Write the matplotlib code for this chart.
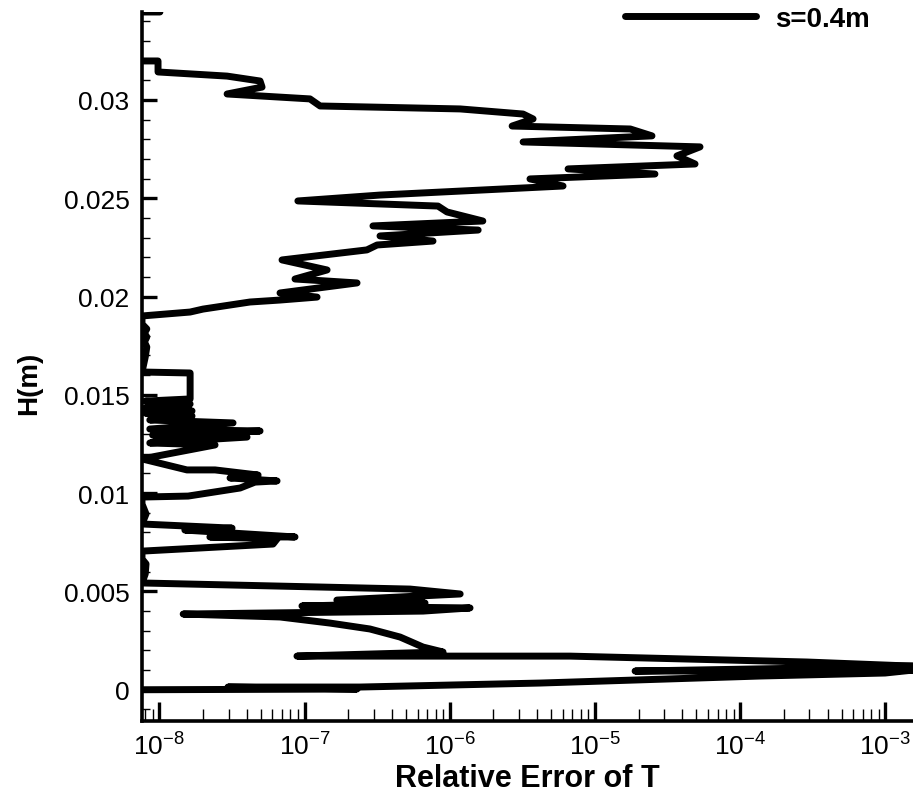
import matplotlib
matplotlib.use("Agg")
import matplotlib.pyplot as plt
from matplotlib.ticker import FixedLocator, FixedFormatter, NullFormatter

plt.rcParams['font.family'] = ['Liberation Sans', 'DejaVu Sans']
plt.rcParams['mathtext.fontset'] = 'custom'
plt.rcParams['mathtext.rm'] = 'Liberation Sans'

# relative error of T (x) vs height H in m (y), in drawing order
rel_err = [
    7.6e-9, 2.3e-7, 2.97e-8, 2.41e-7, 4.19e-6, 1.37e-4, 9.95e-4, 1.55e-3, 1.03e-3, 1.89e-5,
    6.7e-4, 1.55e-3, 2.89e-4, 6.74e-6, 8.87e-8, 8.99e-7, 6.55e-7, 4.55e-7, 2.82e-7, 1.5e-7,
    6.78e-8, 1.46e-8, 6.55e-7, 1.38e-6, 9.6e-8, 6.76e-7, 1.67e-7, 1.18e-6, 5.33e-7, 7.6e-9,
    8.0e-9, 8.1e-9, 7.6e-9,
    7.6e-9, 6.07e-8, 6.47e-8, 2.23e-8, 8.6e-8, 3.17e-8, 1.5e-8, 3.17e-8, 7.6e-9,
    8.1e-9, 7.6e-9,
    7.6e-9, 1.58e-8, 3.6e-8, 4.56e-8, 6.47e-8, 3.07e-8, 4.79e-8, 2.42e-8, 1.55e-8, 7.6e-9,
    2.42e-8, 8.6e-9, 4.02e-8, 9.0e-9, 4.94e-8, 8.6e-9, 3.22e-8, 8.6e-9, 1.68e-8, 8.0e-9,
    1.68e-8, 8.0e-9, 1.63e-8, 8.0e-9,
    1.63e-8, 1.63e-8, 7.6e-9,
    8.0e-9, 8.2e-9, 7.9e-9, 8.2e-9, 7.9e-9, 8.2e-9, 7.6e-9,
    7.6e-9, 1.63e-8, 2.0e-8, 4.21e-8, 6.78e-8, 1.22e-7, 6.78e-8, 2.3e-7, 8.6e-8, 1.43e-7,
    7.0e-8, 2.69e-7, 3.16e-7, 7.67e-7, 3.31e-7, 1.57e-6, 2.96e-7, 1.69e-6, 9.58e-7, 8.3e-7,
    9.0e-8, 3.31e-7, 6.03e-6, 3.57e-6, 2.59e-5, 6.53e-6, 4.89e-5, 3.67e-5, 5.29e-5, 3.2e-6,
    2.47e-5, 1.75e-5, 2.69e-6, 3.75e-6, 3.2e-6, 1.18e-6, 1.28e-7, 1.09e-7, 2.93e-8, 5.1e-8,
    4.94e-8, 2.93e-8, 9.8e-9, 9.8e-9, 5.0e-9, 5.0e-9, 1.01e-8,
]
height = [
    0.0, 3.6e-5, 1.37e-4, 1.37e-4, 3.4e-4, 6.97e-4, 8.5e-4, 1.0e-3, 9.5e-4, 9.5e-4,
    1.15e-3, 1.2e-3, 1.41e-3, 1.71e-3, 1.71e-3, 1.92e-3, 2.17e-3, 2.68e-3, 3.09e-3, 3.39e-3,
    3.7e-3, 3.85e-3, 4.0e-3, 4.16e-3, 4.26e-3, 4.41e-3, 4.56e-3, 4.87e-3, 5.12e-3, 5.43e-3,
    5.89e-3, 6.4e-3, 6.65e-3,
    7.05e-3, 7.41e-3, 7.67e-3, 7.77e-3, 7.77e-3, 7.97e-3, 8.12e-3, 8.22e-3, 8.43e-3,
    8.94e-3, 9.45e-3,
    9.8e-3, 9.85e-3, 1.026e-2, 1.056e-2, 1.062e-2, 1.077e-2, 1.092e-2, 1.118e-2, 1.118e-2, 1.174e-2,
    1.245e-2, 1.255e-2, 1.285e-2, 1.295e-2, 1.316e-2, 1.326e-2, 1.357e-2, 1.372e-2, 1.392e-2, 1.407e-2,
    1.418e-2, 1.433e-2, 1.453e-2, 1.468e-2,
    1.479e-2, 1.611e-2, 1.616e-2,
    1.692e-2, 1.743e-2, 1.769e-2, 1.794e-2, 1.814e-2, 1.835e-2, 1.86e-2,
    1.901e-2, 1.921e-2, 1.936e-2, 1.972e-2, 1.982e-2, 1.997e-2, 2.018e-2, 2.069e-2, 2.089e-2, 2.135e-2,
    2.186e-2, 2.237e-2, 2.262e-2, 2.282e-2, 2.308e-2, 2.338e-2, 2.359e-2, 2.384e-2, 2.43e-2, 2.46e-2,
    2.486e-2, 2.516e-2, 2.562e-2, 2.598e-2, 2.623e-2, 2.649e-2, 2.674e-2, 2.715e-2, 2.761e-2, 2.786e-2,
    2.817e-2, 2.852e-2, 2.867e-2, 2.903e-2, 2.928e-2, 2.954e-2, 2.969e-2, 3.005e-2, 3.03e-2, 3.065e-2,
    3.096e-2, 3.121e-2, 3.142e-2, 3.198e-2, 3.198e-2, 3.447e-2, 3.447e-2,
]
series_label = "s=0.4m"

y_ticks = [0.0, 0.005, 0.01, 0.015, 0.02, 0.025, 0.03]
y_tick_labels = ["0", "0.005", "0.01", "0.015", "0.02", "0.025", "0.03"]
x_ticks = [1e-8, 1e-7, 1e-6, 1e-5, 1e-4, 1e-3]
x_tick_labels = [r"$\mathregular{10^{-8}}$", r"$\mathregular{10^{-7}}$", r"$\mathregular{10^{-6}}$",
                 r"$\mathregular{10^{-5}}$", r"$\mathregular{10^{-4}}$", r"$\mathregular{10^{-3}}$"]

fig = plt.figure(figsize=(9.13, 8.04), dpi=100)
ax = fig.add_axes([142 / 913, (804 - 722) / 804, 1 - 142 / 913, (722 - 13) / 804])

ax.plot(rel_err, height, color="black", lw=5, solid_capstyle="round",
        solid_joinstyle="round", label=series_label)

ax.set_xscale("log")
ax.set_xlim(7.6e-9, 1.55e-3)
ax.set_ylim(-0.00159, 0.03447)

ax.xaxis.set_major_locator(FixedLocator(x_ticks))
ax.xaxis.set_major_formatter(FixedFormatter(x_tick_labels))
minor_x = [m * 10.0 ** e for e in range(-9, -2) for m in range(2, 10)]
ax.xaxis.set_minor_locator(FixedLocator(minor_x))
ax.xaxis.set_minor_formatter(NullFormatter())

ax.yaxis.set_major_locator(FixedLocator(y_ticks))
ax.yaxis.set_major_formatter(FixedFormatter(y_tick_labels))
ax.yaxis.set_minor_locator(FixedLocator([i * 0.001 for i in range(-1, 35)]))

for s in ["top", "right"]:
    ax.spines[s].set_visible(False)
for s in ["left", "bottom"]:
    ax.spines[s].set_linewidth(2.6)

ax.tick_params(axis="x", which="major", direction="in", length=14, width=2.4,
               labelsize=19, pad=8)
ax.tick_params(axis="x", which="minor", direction="in", length=8.5, width=1.0)
ax.tick_params(axis="y", which="major", direction="in", length=11, width=2.4,
               labelsize=19, pad=9)
ax.tick_params(axis="y", which="minor", direction="in", length=6, width=1.0)

ax.set_xlabel("Relative Error of T", fontsize=22, fontweight="bold")
ax.xaxis.set_label_coords(0.5, (722 - 764) / 709)
ax.set_ylabel("H(m)", fontsize=20, fontweight="bold")
ax.yaxis.set_label_coords((42 - 142) / 771, (722 - 383) / 709)

leg = ax.legend(loc="center left", bbox_to_anchor=(625 / 913, 1 - 20 / 804),
                bbox_transform=fig.transFigure, frameon=False,
                prop={"size": 20, "weight": "bold"}, handlelength=4.7,
                handletextpad=0.7, borderpad=0, borderaxespad=0)

fig.savefig("out.png", dpi=100)
